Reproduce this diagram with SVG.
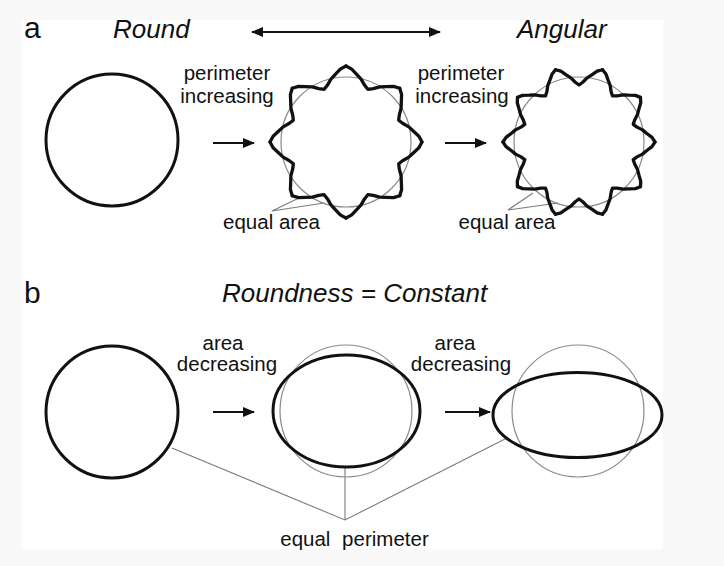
<svg xmlns="http://www.w3.org/2000/svg" xmlns:xlink="http://www.w3.org/1999/xlink" width="724" height="566" viewBox="0 0 724 566">
<style>
text{font-family:"Liberation Sans",Arial,sans-serif;fill:#111}
.lbl{font-size:20.5px;text-anchor:middle}
.hd{font-size:26px;font-style:italic}
.big{font-size:30px}
.thick{fill:none;stroke:#111;stroke-width:3;stroke-linecap:round;stroke-linejoin:round}
.star{stroke-width:3.3}
.thin{fill:none;stroke:#8a8a8a;stroke-width:1.2}
.lead{fill:none;stroke:#7a7a7a;stroke-width:1.1}
.arr{fill:none;stroke:#111;stroke-width:1.8}
</style>
<defs>
<marker id="ah" viewBox="0 0 12 10" refX="11" refY="5" markerWidth="12" markerHeight="10" markerUnits="userSpaceOnUse" orient="auto-start-reverse">
<path d="M0,0 L12,5 L0,10 Z" fill="#111"/>
</marker>
<polyline id="p8" points="0,-76 5.74,-72.89 10.69,-67.53 15.08,-62.85 18.50,-56.95 21.81,-52.66 27.19,-53.35 33.77,-55.10 40.19,-55.31 47.48,-55.60 53.74,-53.74"/>
<polyline id="p10" points="0,-76 4.59,-72.97 8.57,-67.83 12.11,-63.49 14.89,-58.00 17.61,-54.21 22.04,-55.68 27.52,-58.48 32.94,-59.91 39.18,-61.74 44.67,-61.48"/>
</defs>
<rect x="0" y="0" width="724" height="566" fill="#f9f9f9"/>
<rect x="22" y="20" width="641" height="529" fill="#ffffff"/>

<g id="labels">
<text class="big" x="24" y="38">a</text>
<text class="hd" x="113" y="38">Round</text>
<text class="hd" x="517" y="38">Angular</text>
<text class="big" x="24" y="303">b</text>
<text class="hd" x="222" y="302">Roundness = Constant</text>
<text class="lbl" x="227" y="80">perimeter</text>
<text class="lbl" x="227" y="103">increasing</text>
<text class="lbl" x="461" y="80">perimeter</text>
<text class="lbl" x="462" y="103">increasing</text>
<text class="lbl" x="271.5" y="229">equal area</text>
<text class="lbl" x="507" y="229">equal area</text>
<text class="lbl" x="223" y="350">area</text>
<text class="lbl" x="227" y="371">decreasing</text>
<text class="lbl" x="455" y="350">area</text>
<text class="lbl" x="461" y="371">decreasing</text>
<text class="lbl" x="354.5" y="546" word-spacing="6">equal perimeter</text>
</g>

<g id="connectors">
<line class="arr" x1="252" y1="32" x2="440" y2="32" marker-start="url(#ah)" marker-end="url(#ah)"/>
<line class="arr" x1="213" y1="143" x2="254" y2="143" marker-end="url(#ah)"/>
<line class="arr" x1="445" y1="143" x2="486" y2="143" marker-end="url(#ah)"/>
<line class="arr" x1="213" y1="412" x2="254" y2="412" marker-end="url(#ah)"/>
<line class="arr" x1="445" y1="412" x2="490" y2="412" marker-end="url(#ah)"/>
<polyline class="lead" points="301,197 272,211 324,203"/>
<polyline class="lead" points="533,193 508,210 558,203"/>
<polyline class="lead" points="172,448 345,520 507,438"/>
<line class="lead" x1="345" y1="467" x2="345" y2="520"/>
</g>

<g id="circle-a">
<circle class="thick" cx="112" cy="140" r="66"/>
</g>

<g id="star-8" transform="translate(346,142)">
<circle class="thin" r="65"/>
<g class="thick star">
<use xlink:href="#p8"/>
<use xlink:href="#p8" transform="rotate(45)"/>
<use xlink:href="#p8" transform="rotate(90)"/>
<use xlink:href="#p8" transform="rotate(135)"/>
<use xlink:href="#p8" transform="rotate(180)"/>
<use xlink:href="#p8" transform="rotate(225)"/>
<use xlink:href="#p8" transform="rotate(270)"/>
<use xlink:href="#p8" transform="rotate(315)"/>
</g>
</g>

<g id="star-10" transform="translate(579,142)">
<circle class="thin" r="65"/>
<g class="thick star">
<use xlink:href="#p10" transform="rotate(18)"/>
<use xlink:href="#p10" transform="rotate(54)"/>
<use xlink:href="#p10" transform="rotate(90)"/>
<use xlink:href="#p10" transform="rotate(126)"/>
<use xlink:href="#p10" transform="rotate(162)"/>
<use xlink:href="#p10" transform="rotate(198)"/>
<use xlink:href="#p10" transform="rotate(234)"/>
<use xlink:href="#p10" transform="rotate(270)"/>
<use xlink:href="#p10" transform="rotate(306)"/>
<use xlink:href="#p10" transform="rotate(342)"/>
</g>
</g>

<g id="circle-b">
<circle class="thick" cx="112" cy="412" r="66"/>
</g>

<g id="ellipse-1">
<circle class="thin" cx="346" cy="411" r="66"/>
<ellipse class="thick" cx="346.5" cy="411" rx="73.5" ry="56"/>
</g>

<g id="ellipse-2">
<circle class="thin" cx="578" cy="411" r="66"/>
<ellipse class="thick" cx="577.5" cy="415" rx="84.5" ry="42.5"/>
</g>
</svg>
